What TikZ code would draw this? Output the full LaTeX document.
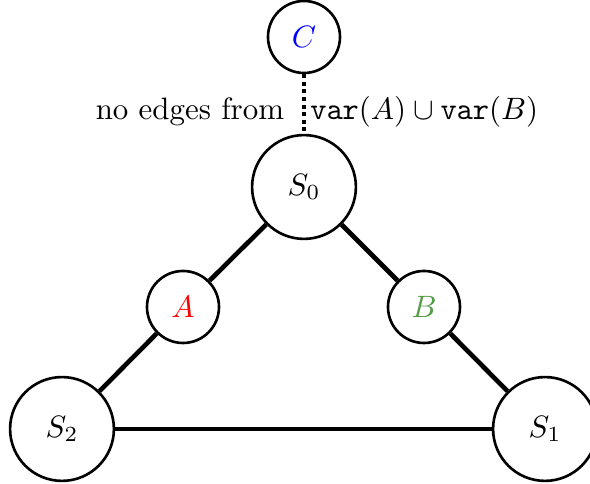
\documentclass[tikz,border=0pt]{standalone}
\usepackage{xcolor}
\definecolor{bgreen}{RGB}{85,155,70}
\begin{document}
\begin{tikzpicture}[x=0.3236pt,y=-0.3236pt,
  small/.style={circle,draw,line width=0.85pt,minimum size=23.3pt,inner sep=0pt},
  big/.style={circle,draw,line width=0.85pt,minimum size=33.6pt,inner sep=0pt},
  edgeline/.style={line width=1.5pt},
  nolink/.style={line width=1.5pt,dash pattern=on 1.3pt off 1.15pt}]
\useasboundingbox (0,0) rectangle (590,484);
\node[small] (C) at (304,37) {\textcolor{blue}{$C$}};
\node[big] (S0) at (304,187) {$S_0$};
\node[small] (A) at (183,307) {\textcolor{red}{$A$}};
\node[small] (B) at (424,307) {\textcolor{bgreen}{$B$}};
\node[big] (S2) at (62,429) {$S_2$};
\node[big] (S1) at (545,429) {$S_1$};
\draw[nolink] (C) -- (S0);
\node (lbl) at (317,112) {no edges from\hspace{8.5pt}$\mathtt{var}(A)\cup\mathtt{var}(B)$};
\draw[edgeline] (S0) -- (A);
\draw[edgeline] (A) -- (S2);
\draw[edgeline] (S0) -- (B);
\draw[edgeline] (B) -- (S1);
\draw[edgeline] (S2) -- (S1);
\end{tikzpicture}
\end{document}
